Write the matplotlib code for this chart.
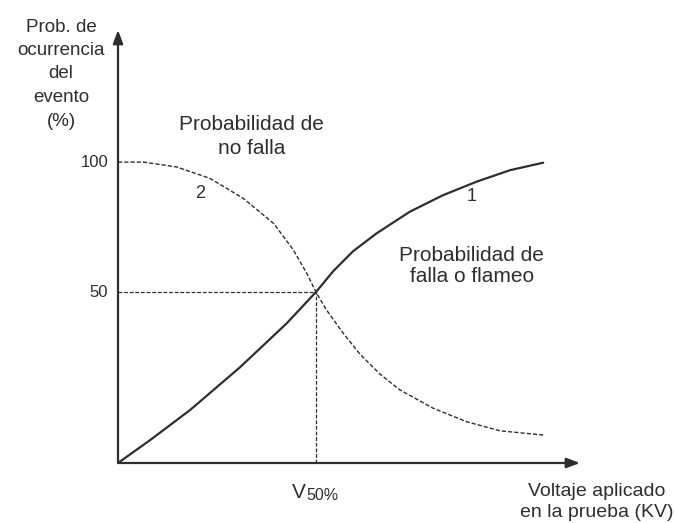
import matplotlib.pyplot as plt

plt.rcParams['font.family'] = ['Liberation Sans', 'DejaVu Sans']

ink = '#2e2e2e'

# curve 1: probabilidad de falla o flameo
v_falla = [0, 0.81, 1.82, 3.08, 4.26, 5.0, 5.44, 5.94, 6.53, 7.37, 8.21, 9.06, 9.90, 10.74]
p_falla = [0, 7.6, 17.6, 31.8, 46.4, 56.8, 63.8, 70.4, 76.3, 83.5, 89.0, 93.5, 97.3, 99.8]

# curve 2: probabilidad de no falla
v_nofalla = [0, 0.64, 1.48, 2.32, 3.16, 3.94, 4.43, 4.77, 5.0, 5.27, 5.69, 6.11, 6.62,
             7.12, 7.96, 8.81, 9.65, 10.74]
p_nofalla = [100, 100, 98.4, 94.6, 88.0, 79.5, 70.8, 63.0, 56.8, 50.8, 43.1, 36.2, 29.5,
             24.3, 18.2, 13.7, 10.7, 9.3]

# the 50 % point (schematic figure, the "50" tick sits where the curves cross)
v50 = 5.0
p50 = 56.8
ytick_pos = [p50, 100]
ytick_lab = ['50', '100']

xmax = 11.67
ymax = 143.9

fig = plt.figure(figsize=(6.75, 5.23), dpi=100)
ax = fig.add_axes([118 / 675, 60 / 523, 462 / 675, 433 / 523])
ax.set_xlim(0, xmax)
ax.set_ylim(0, ymax)
ax.axis('off')

# axes with arrow heads
arrow = dict(arrowstyle='-|>,head_length=0.8,head_width=0.3', color=ink, lw=1.6,
             shrinkA=0, shrinkB=0)
ax.annotate('', xy=(xmax, 0), xytext=(0, 0), arrowprops=arrow, annotation_clip=False)
ax.annotate('', xy=(0, ymax), xytext=(0, 0), arrowprops=arrow, annotation_clip=False)

# curves
ax.plot(v_falla, p_falla, color=ink, lw=1.6, solid_joinstyle='round', solid_capstyle='round')
ax.plot(v_nofalla, p_nofalla, color=ink, lw=1.0, dashes=(3, 1.5))

# guide lines to the 50 % point
ax.plot([0, v50], [p50, p50], color=ink, lw=0.9, dashes=(3, 1.5))
ax.plot([v50, v50], [0, p50], color=ink, lw=0.9, dashes=(3, 1.5))

# tick labels
for pos, lab in zip(ytick_pos, ytick_lab):
    ax.text(-0.25, pos, lab, ha='right', va='center', fontsize=12, color=ink)

ax.text(v50 - 0.6, -11.7, 'V', ha='left', va='baseline', fontsize=15, color=ink)
ax.text(v50 - 0.25, -12.2, '50%', ha='left', va='baseline', fontsize=11.5, color=ink)

# axis titles
fig.text(61 / 675, 1 - 74 / 523, 'Prob. de\nocurrencia\ndel\nevento\n(%)', ha='center',
         va='center', fontsize=13.5, color=ink, linespacing=1.5)
fig.text(597 / 675, 1 - 502 / 523, 'Voltaje aplicado\nen la prueba (KV)', ha='center',
         va='center', fontsize=14, color=ink, linespacing=1.38)

# curve annotations
ax.text(3.38, 108.5, 'Probabilidad de\nno falla', ha='center', va='center', fontsize=15,
        color=ink, linespacing=1.27)
ax.text(2.07, 89.7, '2', ha='center', va='center', fontsize=13, color=ink)
ax.text(8.94, 88.5, '1', ha='center', va='center', fontsize=13, color=ink)
ax.text(8.94, 65.5, 'Probabilidad de\nfalla o flameo', ha='center', va='center', fontsize=15,
        color=ink, linespacing=1.15)

fig.savefig('out.png', dpi=100, facecolor='white')
